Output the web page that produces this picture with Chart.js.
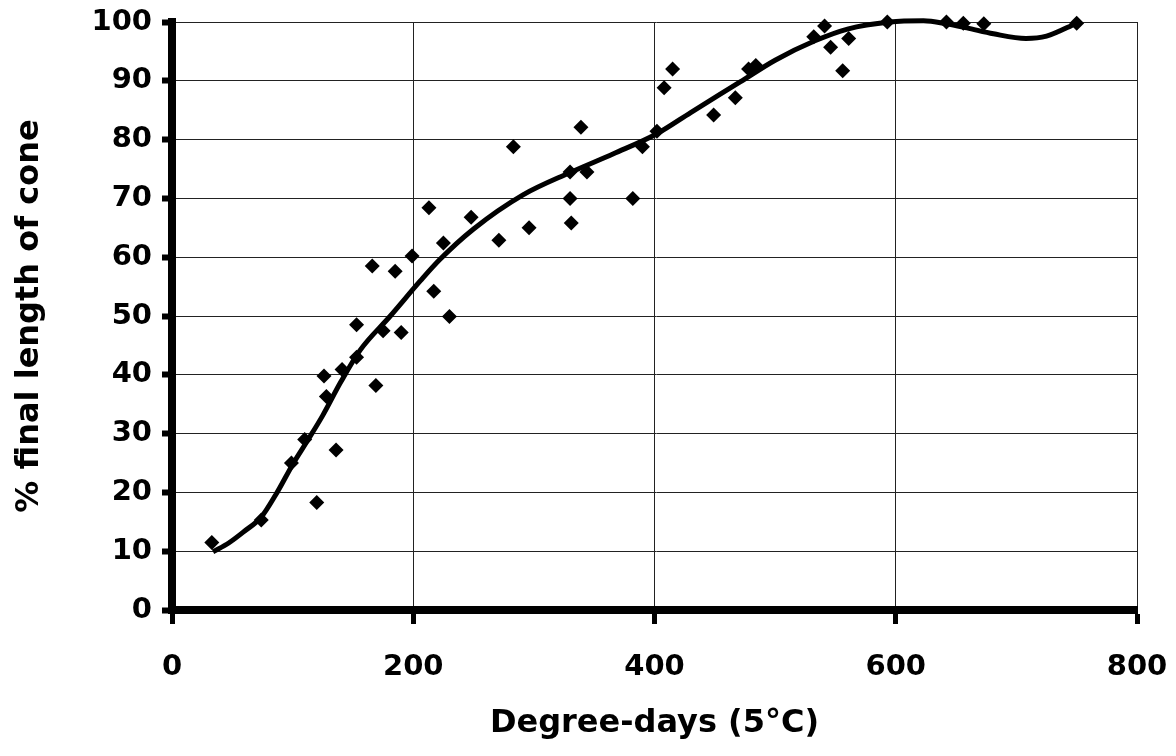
<!DOCTYPE html>
<html>
<head>
<meta charset="utf-8">
<script src="https://cdn.jsdelivr.net/npm/chart.js@4"></script>
<style>
  body { margin: 0; background: #ffffff; }
  #wrap { width: 1176px; height: 756px; }
</style>
</head>
<body>
<div id="wrap"><canvas id="coneChart" width="1176" height="756"></canvas></div>
<script>
// observed cone length
var obsDays = [33, 74, 99, 110, 120, 136, 128, 126, 141, 153, 153, 169, 175, 190, 217, 230, 213, 248, 225, 199,
  166, 185, 271, 296, 283, 330, 344, 330, 331, 339, 382, 390, 402, 408, 415, 449, 467, 478, 484, 532,
  541, 546, 561, 556, 593, 642, 656, 673, 750];
var obsPct = [11.5, 15.3, 25, 29, 18.3, 27.2, 36.3, 39.8, 40.9, 43, 48.5, 38.2, 47.5, 47.2, 54.2, 49.9, 68.4, 66.8, 62.4, 60.2,
  58.5, 57.6, 62.9, 65, 78.8, 74.5, 74.5, 70, 65.8, 82.1, 70, 78.8, 81.4, 88.8, 92, 84.2, 87.1, 92, 92.6, 97.5,
  99.3, 95.7, 97.2, 91.7, 100, 100, 99.8, 99.7, 99.8];

// fitted curve
var fitDays = [34, 47, 60, 74, 86, 101, 112, 125, 140, 156, 181, 206, 222, 250, 291, 330, 366, 402, 430,
  471, 500, 533, 560, 595, 623, 642, 659, 681, 708, 725, 750];
var fitPct = [9.9, 11.4, 13.4, 15.8, 19.6, 25.1, 28.7, 33.1, 38.8, 44.2, 50, 56, 59.6, 64.8, 70.6, 74.4, 77.6, 81, 84.6,
  89.8, 93.5, 96.8, 98.8, 100, 100.2, 99.7, 99, 98, 97.2, 97.6, 99.8];

var xTicks = [0, 200, 400, 600, 800];
var yTicks = [0, 10, 20, 30, 40, 50, 60, 70, 80, 90, 100];

function pairs(xs, ys) {
  var out = [];
  for (var i = 0; i < xs.length; i++) {
    out.push({ x: xs[i], y: ys[i] });
  }
  return out;
}

var fontFam = "'DejaVu Sans', sans-serif";

var ctx = document.getElementById('coneChart').getContext('2d');
var chart = new Chart(ctx, {
  type: 'scatter',
  data: {
    datasets: [
      {
        label: 'observed',
        data: pairs(obsDays, obsPct),
        pointStyle: 'rectRot',
        pointRadius: 7.5,
        pointBackgroundColor: '#000000',
        pointBorderWidth: 0,
        showLine: false,
        clip: 10,
        order: 1
      },
      {
        label: 'fit',
        data: pairs(fitDays, fitPct),
        showLine: true,
        borderColor: '#000000',
        borderWidth: 5,
        pointRadius: 0,
        cubicInterpolationMode: 'monotone',
        fill: false,
        clip: 10,
        order: 2
      }
    ]
  },
  options: {
    responsive: false,
    animation: false,
    layout: { padding: { top: 22, right: 39, left: 0, bottom: 0 } },
    plugins: {
      legend: { display: false },
      tooltip: { enabled: false }
    },
    scales: {
      x: {
        type: 'linear',
        min: 0,
        max: 800,
        afterBuildTicks: function (scale) {
          scale.ticks = xTicks.map(function (v) { return { value: v }; });
        },
        afterFit: function (scale) {
          scale.height = 146;
          scale.paddingLeft = 0;
          scale.paddingRight = 0;
        },
        grid: {
          color: '#222222',
          lineWidth: 1,
          tickLength: 14,
          tickWidth: 5,
          tickColor: '#000000'
        },
        border: { display: true, color: '#000000', width: 8 },
        ticks: {
          color: '#000000',
          padding: 26,
          maxRotation: 0,
          font: { family: fontFam, size: 29, weight: 'bold' }
        },
        title: {
          display: true,
          text: 'Degree-days (5°C)',
          color: '#000000',
          padding: { top: 0, bottom: 13 },
          font: { family: fontFam, size: 32, weight: 'bold' }
        }
      },
      y: {
        type: 'linear',
        min: 0,
        max: 100,
        afterBuildTicks: function (scale) {
          scale.ticks = yTicks.map(function (v) { return { value: v }; });
        },
        afterFit: function (scale) {
          scale.width = 172;
          scale.paddingTop = 0;
          scale.paddingBottom = 0;
        },
        grid: {
          color: '#222222',
          lineWidth: 1,
          tickLength: 10,
          tickWidth: 6,
          tickColor: '#000000'
        },
        border: { display: true, color: '#000000', width: 8 },
        ticks: {
          color: '#000000',
          padding: 10,
          font: { family: fontFam, size: 29, weight: 'bold' }
        },
        title: {
          display: true,
          text: '% final length of cone',
          color: '#000000',
          padding: { top: 10, bottom: 0 },
          font: { family: fontFam, size: 32, weight: 'bold' }
        }
      }
    }
  }
});
</script>
</body>
</html>
